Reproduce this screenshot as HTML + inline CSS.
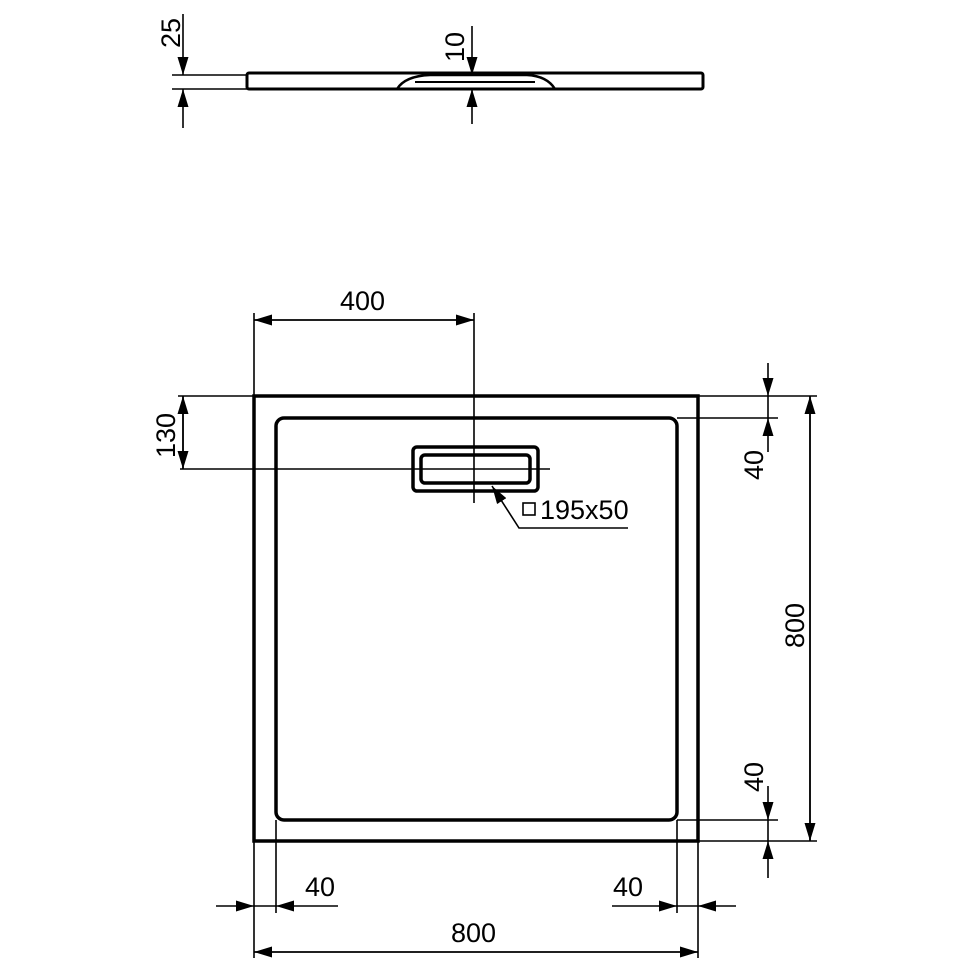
<!DOCTYPE html>
<html><head><style>body{margin:0;background:#fff}svg{display:block}text{font-family:"Liberation Sans",Arial,sans-serif;font-size:27px;fill:#000}</style></head><body>
<svg width="970" height="970" viewBox="0 0 970 970" xmlns="http://www.w3.org/2000/svg">
<defs><marker id="a" viewBox="0 0 10 10" refX="10" refY="5" markerWidth="18" markerHeight="11" markerUnits="userSpaceOnUse" orient="auto" preserveAspectRatio="none"><path d="M0,0 L10,5 L0,10z" fill="#000"/></marker></defs>
<g stroke="#000" fill="none">
<rect x="247" y="73" width="456" height="16" rx="2" stroke-width="3"/>
<path d="M397,89 Q405,76 430,75 L527,75 Q547,76 555,89" stroke-width="2.5"/>
<line x1="415" y1="82" x2="535" y2="82" stroke-width="2"/>
<g stroke-width="1.6">
<line x1="172" y1="75" x2="247" y2="75"/><line x1="172" y1="89" x2="247" y2="89"/>
<line x1="183" y1="14" x2="183" y2="75" marker-end="url(#a)"/><line x1="183" y1="128" x2="183" y2="89" marker-end="url(#a)"/>
<line x1="472" y1="26" x2="472" y2="75" marker-end="url(#a)"/><line x1="472" y1="124" x2="472" y2="89" marker-end="url(#a)"/>
</g>
<rect x="254" y="396" width="444" height="445" stroke-width="3.5"/>
<rect x="276" y="418" width="401" height="402" rx="8" stroke-width="3.5"/>
<rect x="413" y="447" width="125" height="44" rx="4" stroke-width="3.5"/>
<rect x="421" y="455" width="109" height="28" rx="4" stroke-width="3.5"/>
<g stroke-width="1.6">
<line x1="474" y1="313" x2="474" y2="503"/>
<line x1="180" y1="469" x2="550" y2="469"/>
<line x1="254" y1="313" x2="254" y2="396"/>
<line x1="254" y1="320" x2="474" y2="320" marker-end="url(#a)"/><line x1="474" y1="320" x2="254" y2="320" marker-end="url(#a)"/>
<line x1="178" y1="396" x2="254" y2="396"/>
<line x1="183" y1="469" x2="183" y2="396" marker-end="url(#a)"/><line x1="183" y1="396" x2="183" y2="469" marker-end="url(#a)"/>
<line x1="698" y1="396" x2="817" y2="396"/><line x1="677" y1="418" x2="778" y2="418"/>
<line x1="677" y1="820" x2="778" y2="820"/><line x1="698" y1="841" x2="817" y2="841"/>
<line x1="810" y1="841" x2="810" y2="396" marker-end="url(#a)"/><line x1="810" y1="396" x2="810" y2="841" marker-end="url(#a)"/>
<line x1="768" y1="363" x2="768" y2="396" marker-end="url(#a)"/><line x1="768" y1="452" x2="768" y2="418" marker-end="url(#a)"/>
<line x1="768" y1="396" x2="768" y2="418"/><line x1="768" y1="820" x2="768" y2="841"/>
<line x1="768" y1="786" x2="768" y2="820" marker-end="url(#a)"/><line x1="768" y1="878" x2="768" y2="841" marker-end="url(#a)"/>
<line x1="254" y1="841" x2="254" y2="958"/><line x1="698" y1="841" x2="698" y2="958"/>
<line x1="276" y1="820" x2="276" y2="913"/><line x1="677" y1="820" x2="677" y2="913"/>
<line x1="216" y1="906" x2="254" y2="906" marker-end="url(#a)"/><line x1="338" y1="906" x2="276" y2="906" marker-end="url(#a)"/>
<line x1="612" y1="906" x2="677" y2="906" marker-end="url(#a)"/><line x1="736" y1="906" x2="698" y2="906" marker-end="url(#a)"/>
<line x1="254" y1="906" x2="276" y2="906"/><line x1="677" y1="906" x2="698" y2="906"/>
<line x1="254" y1="952" x2="698" y2="952" marker-end="url(#a)"/><line x1="698" y1="952" x2="254" y2="952" marker-end="url(#a)"/>
<polyline points="628,528 519,528 492,486" marker-end="url(#a)"/>
<rect x="523" y="503" width="12" height="12"/>
</g>
</g>
<text x="340" y="310">400</text>
<text x="305" y="896">40</text>
<text x="613" y="896">40</text>
<text x="451" y="942">800</text>
<text x="540" y="519">195x50</text>
<text transform="translate(180,48) rotate(-90)">25</text>
<text transform="translate(464,62) rotate(-90)">10</text>
<text transform="translate(175,458) rotate(-90)">130</text>
<text transform="translate(763,480) rotate(-90)">40</text>
<text transform="translate(763,792) rotate(-90)">40</text>
<text transform="translate(804,648) rotate(-90)">800</text>
</svg>
</body></html>
